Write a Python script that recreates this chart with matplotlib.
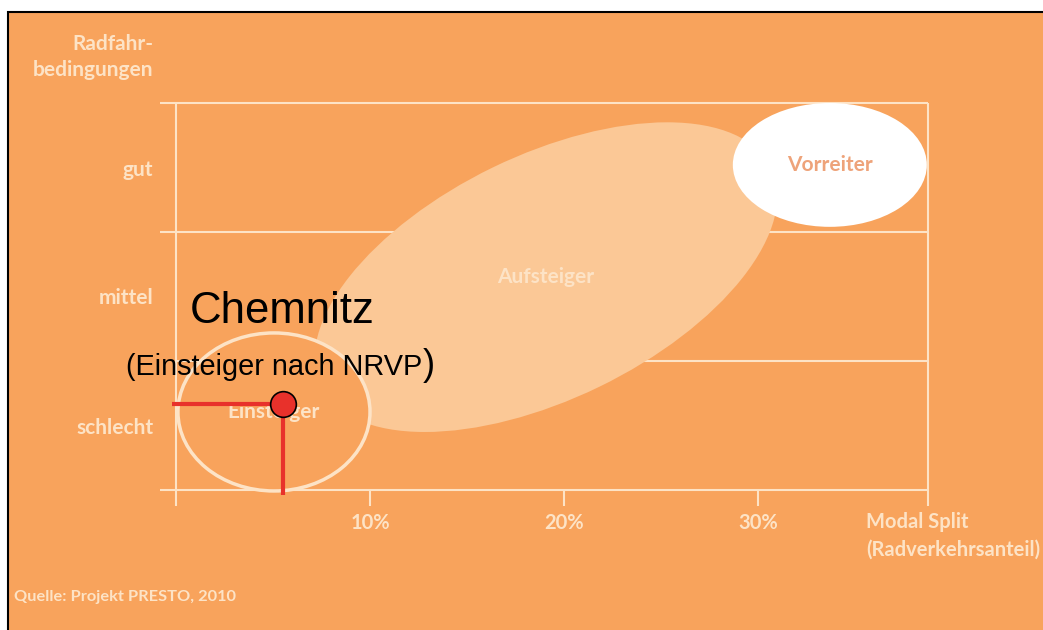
import matplotlib
matplotlib.use('Agg')
import matplotlib.pyplot as plt
from matplotlib.patches import Ellipse, Rectangle
from matplotlib.transforms import Affine2D

# categories on the two axes
conditions = ['schlecht', 'mittel', 'gut']
cond_pos = [0.5, 1.5, 2.5]
split_ticks = [10, 20, 30]
split_labels = ['10%', '20%', '30%']
split_max = 38.76

# the three groups: centre (modal split %, condition level), size, rotation
group_names = ['Einsteiger', 'Aufsteiger', 'Vorreiter']
group_x = [5.05, 19.07, 33.7]
group_y = [0.605, 1.65, 2.52]
group_w = [9.9, 25.8, 10.0]
group_h = [1.225, 1.89, 0.96]
group_angle = [0, 25.9, 0]

# Chemnitz
chem_split = 5.5
chem_cond = 0.667

BG = '#f8a35c'
CREAM = '#fde3c6'
PEACH = '#fbc896'
RED = '#e8312b'

W, H = 1043, 630
fig = plt.figure(figsize=(W / 100, H / 100), dpi=100)
fig.patch.set_facecolor('white')
fig.patches.append(Rectangle((8 / W, -0.05), 1.1, (H - 12) / H + 0.05,
                             transform=fig.transFigure, facecolor=BG,
                             edgecolor='black', linewidth=1.5, zorder=-5))

left, right, top, bottom = 176, 928, 103, 490
ax = fig.add_axes([left / W, (H - bottom) / H, (right - left) / W, (bottom - top) / H])
ax.set_facecolor('none')
ax.set_xlim(0, split_max)
ax.set_ylim(0, 3)
for s in ax.spines.values():
    s.set_visible(False)

px_pct = (right - left) / split_max
px_lvl = (bottom - top) / 3
r = px_lvl / px_pct
xt = -16 / px_pct   # lines reach a bit left of the axis
yt = -16 / px_lvl   # and a bit below

# grid
lw = 1.5
ax.hlines([0, 2, 3], xt, split_max, color=CREAM, lw=lw, clip_on=False, zorder=1)
ax.hlines([1], 0, split_max, color=CREAM, lw=lw, clip_on=False, zorder=1)
ax.vlines([0, split_max], yt, 3, color=CREAM, lw=lw, clip_on=False, zorder=1)

ax.set_xticks(split_ticks, split_labels)
ax.set_yticks(cond_pos, conditions)
ax.tick_params(axis='x', length=16 * 0.72, width=lw, color=CREAM, pad=5,
               labelsize=14.5, labelcolor=CREAM)
ax.tick_params(axis='y', length=0, pad=16.5, labelsize=15, labelcolor=CREAM)
for t in ax.get_xticklabels() + ax.get_yticklabels():
    t.set_fontfamily('Lato')
    t.set_fontweight('bold')

# groups
faces = [BG, PEACH, 'white']
tr = Affine2D().scale(1, 1 / r) + ax.transData
for i, name in enumerate(group_names):
    e = Ellipse((group_x[i], group_y[i] * r), group_w[i], group_h[i] * r,
                angle=group_angle[i], transform=tr, facecolor=faces[i],
                edgecolor=CREAM if i == 0 else 'none', linewidth=2.5,
                zorder=2 if i == 1 else 3, clip_on=False)
    ax.add_patch(e)
    ax.text(group_x[i], group_y[i], name, ha='center', va='center',
            fontsize=15, family='Lato', weight='bold',
            color='#eea37a' if i == 2 else CREAM, zorder=4)

ax.text(-23 / px_pct, 3 + 46 / px_lvl, 'Radfahr-\nbedingungen', ha='right', va='center',
        multialignment='right', fontsize=15, family='Lato', weight='bold',
        color=CREAM, linespacing=1.4)
ax.text(35.57, -46 / px_lvl, 'Modal Split\n(Radverkehrsanteil)', ha='left', va='center',
        fontsize=14.5, family='Lato', weight='bold', color=CREAM, linespacing=1.52,
        clip_on=False)
fig.text(14 / W, (H - 597) / H, 'Quelle: Projekt PRESTO, 2010', ha='left', va='center',
         fontsize=11.8, family='Lato', weight='bold', color=CREAM)

# Chemnitz marker
ax.plot([-4 / px_pct, chem_split], [chem_cond, chem_cond], color=RED, lw=3,
        solid_capstyle='butt', clip_on=False, zorder=5)
ax.plot([chem_split, chem_split], [chem_cond, -5 / px_lvl], color=RED, lw=3,
        solid_capstyle='butt', clip_on=False, zorder=5)
ax.plot([chem_split], [chem_cond], 'o', ms=18.5, mfc=RED, mec='black', mew=1.2,
        clip_on=False, zorder=6)

ax.text(0.72, 1.295, 'Chemnitz', ha='left', va='baseline', fontsize=31.5,
        family='Liberation Sans', color='black', zorder=7)
sub = ax.text(-2.58, 0.891, '(Einsteiger nach NRVP', ha='left', va='baseline',
              fontsize=20.8, family='Liberation Sans', color='black', zorder=7)
fig.canvas.draw()
bb = sub.get_window_extent()
x_end = ax.transData.inverted().transform((bb.x1, bb.y0))[0]
ax.text(x_end + 1 / px_pct, 0.891, ')', ha='left', va='baseline', fontsize=26,
        family='Liberation Sans', color='black', zorder=7)

fig.savefig('out.png', dpi=100)
